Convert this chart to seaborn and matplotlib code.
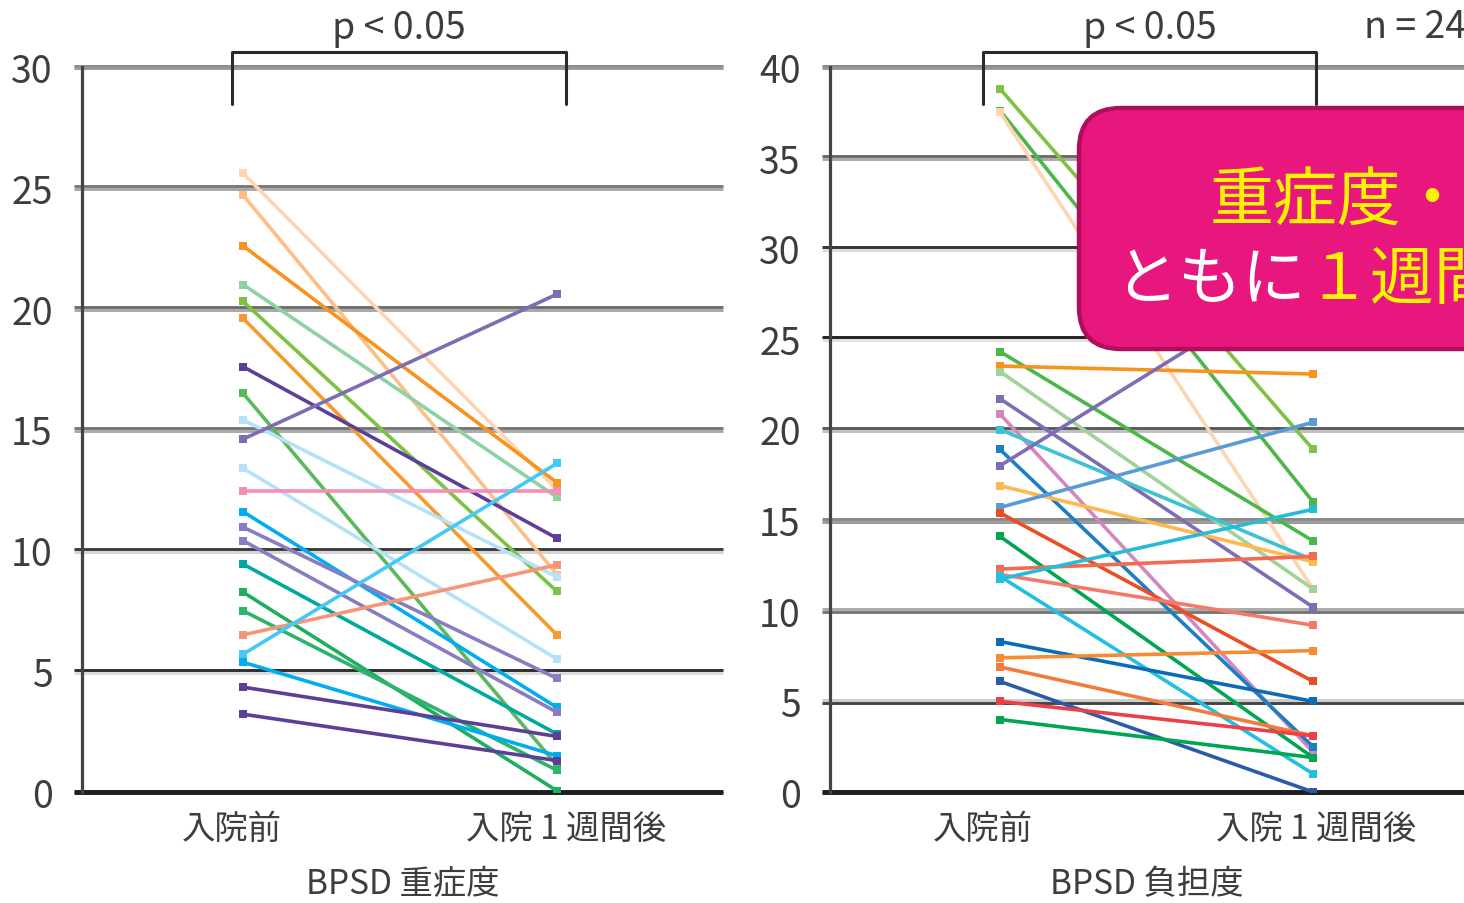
import pandas as pd
import seaborn as sns
import matplotlib
matplotlib.use('Agg')
from matplotlib import pyplot as plt
from matplotlib import transforms as mtransforms
from matplotlib.patches import FancyBboxPatch

times = ['入院前', '入院 1 週間後']

# BPSD severity, before admission / one week after
sev_before = [25.6, 24.7, 22.6, 21.0, 20.3, 19.6, 17.6, 16.5, 15.4, 14.6, 13.4, 12.45,
              11.6, 10.96, 10.4, 9.43, 8.27, 7.5, 6.5, 5.7, 5.37, 4.34, 3.22]
sev_after = [12.5, 9.0, 12.8, 12.2, 8.3, 6.5, 10.5, 1.1, 8.9, 20.6, 5.5, 12.45,
             3.5, 4.7, 3.3, 2.4, 0.05, 0.9, 9.4, 13.6, 1.5, 2.3, 1.3]

# BPSD burden, before admission / one week after
bur_before = [38.8, 37.6, 37.5, 24.3, 23.5, 23.2, 21.7, 20.85, 20.0, 18.9, 18.0, 16.9, 15.7,
              15.4, 14.1, 12.3, 12.0, 11.75, 11.9, 8.3, 7.4, 6.9, 6.1, 5.0, 4.0]
bur_after = [18.9, 16.0, 11.2, 13.85, 23.06, 11.2, 10.2, 2.2, 12.8, 2.5, 28.7, 12.7, 20.4,
             6.1, 1.9, 13.0, 9.2, 15.6, 1.0, 5.0, 7.8, 3.1, 0.0, 3.1, 1.9]

sev_colors = ['#fdd5b1', '#fdbf86', '#f7941d', '#8ed1a5', '#7dc242', '#f79a2e', '#5e3f98',
              '#5cb85c', '#b5e2f8', '#7d6db5', '#b5e2f8', '#f48fb8', '#00aeef', '#8a7cc0',
              '#8a7cc0', '#00a99d', '#1fad62', '#2db36b', '#f69679', '#44c8f5', '#00aeef',
              '#5e3f98', '#5e3f98']
bur_colors = ['#7dc242', '#4cb748', '#fdd5b1', '#4cb748', '#f7941d', '#9fd39a', '#7d6db5',
              '#d387be', '#3ec1d3', '#1c7ec4', '#7d6db5', '#fdb94e', '#5b9bd5', '#e94e24',
              '#00a651', '#f26b50', '#f4796b', '#26bcd7', '#1fc0e0', '#0b6cb5', '#f68b33',
              '#f47a3a', '#2b5ba8', '#ec3f47', '#00a651']

sns.set_theme(style='white')
plt.rcParams['font.family'] = ['Noto Sans CJK JP', 'DejaVu Sans']
CJK = ['Noto Sans CJK JP', 'DejaVu Sans']
TXT = '#3d3d3d'

W, H = 1464, 904
fig = plt.figure(figsize=(W / 100, H / 100), dpi=100)


def px_axes(x0, x1, y_top, y_bot):
    return fig.add_axes([x0 / W, (H - y_bot) / H, (x1 - x0) / W, (y_bot - y_top) / H])


def long_df(before, after):
    n = len(before)
    ids = ['s%02d' % i for i in range(n)]
    return pd.DataFrame({'id': ids * 2,
                         'time': [times[0]] * n + [times[1]] * n,
                         'score': list(before) + list(after)})


def draw_grid(ax, levels, tops, bots):
    base = ax.get_yaxis_transform()
    up = mtransforms.offset_copy(base, fig=fig, y=1.4, units='dots')
    dn = mtransforms.offset_copy(base, fig=fig, y=-1.4, units='dots')
    for lv, ct, cb in zip(levels, tops, bots):
        ax.plot([-0.012, 1], [lv, lv], transform=up, color=ct, lw=2.1,
                clip_on=False, zorder=1, solid_capstyle='butt')
        ax.plot([-0.012, 1], [lv, lv], transform=dn, color=cb, lw=2.1,
                clip_on=False, zorder=1, solid_capstyle='butt')


def panel(ax, before, after, colors, ymax, xlim, ticks, label, grid_tops, grid_bots):
    df = long_df(before, after)
    sns.lineplot(data=df, x='time', y='score', hue='id', palette=colors,
                 estimator=None, errorbar=None, legend=False, ax=ax,
                 marker='s', markersize=6, markeredgewidth=0, linewidth=2.6, zorder=3)
    levels = list(range(0, ymax + 1, 5))
    draw_grid(ax, levels, grid_tops, grid_bots)
    ax.set_xlim(*xlim)
    ax.set_ylim(0, ymax)
    for s in ['top', 'right', 'bottom']:
        ax.spines[s].set_visible(False)
    ax.spines['left'].set_color('#444444')
    ax.spines['left'].set_linewidth(2.3)
    ax.set_yticks(levels)
    ax.tick_params(axis='y', length=0, pad=21, labelsize=27, labelcolor=TXT)
    ax.set_xticks(ticks)
    ax.set_xticklabels(times)
    ax.tick_params(axis='x', length=0, pad=14, labelsize=24, labelcolor=TXT)
    ax.set_xlabel(label, fontsize=24, color=TXT, labelpad=14)
    ax.set_ylabel('')
    ax.patch.set_alpha(0)

    # significance bracket
    upp = ymax / 725.0  # data units per pixel
    y_top = 740 * upp
    y_leg = 688 * upp
    ax.plot([ticks[0], ticks[0], ticks[1], ticks[1]], [y_leg, y_top, y_top, y_leg],
            color='#2a2a2a', lw=2.2, clip_on=False, zorder=4)
    ax.text((ticks[0] + ticks[1]) / 2, 754 * upp, 'p < 0.05', fontsize=27, color=TXT,
            ha='center', va='baseline', clip_on=False)


ax1 = px_axes(82, 723, 68, 793)
ax2 = px_axes(830, 1464, 68, 793)

panel(ax1, sev_before, sev_after, sev_colors, 30, (-0.513, 1.529), [-0.035, 1.03], 'BPSD 重症度',
      ['#1e1e1e', '#2e2e2e', '#3c3c3c', '#777777', '#6e6e6e', '#7a7a7a', '#8a8a8a'],
      ['#1e1e1e', '#dcdcdc', '#d4d4d4', '#aaaaaa', '#a8a8a8', '#a8a8a8', '#999999'])
panel(ax2, bur_before, bur_after, bur_colors, 40, (-0.543, 1.482), [-0.055, 1.01], 'BPSD 負担度',
      ['#1e1e1e', '#cccccc', '#aaaaaa', '#888888', '#5a5a5a', '#222222', '#333333', '#6a6a6a', '#888888'],
      ['#1e1e1e', '#444444', '#777777', '#999999', '#c0c0c0', '#e0e0e0', '#dddddd', '#aaaaaa', '#999999'])

# overlay in pixel space for the callout and the n label
ov = fig.add_axes([0, 0, 1, 1])
ov.set_xlim(0, W)
ov.set_ylim(H, 0)
ov.axis('off')
ov.text(1364, 38, 'n = 24', fontsize=27, color=TXT, ha='left', va='baseline')
ov.add_patch(FancyBboxPatch((1079, 109), 450, 241, boxstyle='round,pad=0,rounding_size=42',
                            fc='#e8177d', ec='#b00d5c', lw=3.2, zorder=5))
ov.text(1210, 221, '重症度・負担度', color='#fff200', fontsize=46, family=CJK,
        ha='left', va='baseline', zorder=6)
ov.text(1114, 299, 'ともに', color='white', fontsize=46, family=CJK,
        ha='left', va='baseline', zorder=6)
ov.text(1306, 299, '１週間後に改善', color='#fff200', fontsize=46, family=CJK,
        ha='left', va='baseline', zorder=6)

fig.savefig('out.png', dpi=100)
